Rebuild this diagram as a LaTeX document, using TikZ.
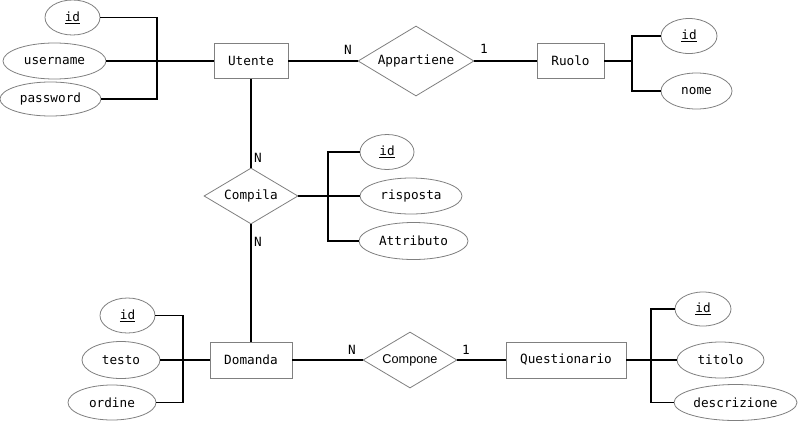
\documentclass[tikz,border=0pt]{standalone}
\usepackage{fontspec}
\setmonofont{DejaVu Sans Mono}
\newfontfamily\relsans{Liberation Sans}
\usetikzlibrary{shapes.geometric}
\newcommand{\keyattr}[1]{\underline{#1}}
\begin{document}
\begin{tikzpicture}[x=1pt,y=-1pt,
  every node/.style={font=\ttfamily\fontsize{12.7}{14}\selectfont, inner sep=0pt},
  entity/.style={draw=black!50, line width=0.8pt, fill=white, rectangle, minimum height=35pt},
  attr/.style={draw=black!50, line width=0.8pt, fill=white, ellipse, minimum height=35pt},
  rel/.style={draw=black!50, line width=0.8pt, fill=white, diamond, aspect=1.7},
  link/.style={draw=black, line width=1.8pt},
  card/.style={font=\ttfamily\fontsize{12.7}{14}\selectfont}
]
\fill[white] (0,0) rectangle (800,421);
\useasboundingbox (0,0) rectangle (800,421);

% junction points of the attribute buses
\coordinate (ubus) at (157,61);
\coordinate (rbus) at (632,61);
\coordinate (cbus) at (328,196);
\coordinate (dbus) at (183,360);
\coordinate (qbus) at (651,360);

% entities
\node[entity, minimum width=74pt] (utente) at (251,61) {Utente};
\node[entity, minimum width=67pt] (ruolo) at (570.5,61) {Ruolo};
\node[entity, minimum width=82pt, minimum height=36pt] (domanda) at (251,360) {Domanda};
\node[entity, minimum width=120pt, minimum height=36pt] (quest) at (566,360) {Questionario};

% relationships
\node[rel, minimum width=116pt, minimum height=70pt] (appart) at (416,61) {Appartiene};
\node[rel, minimum width=94pt, minimum height=56pt] (compila) at (251,196) {Compila};
\node[rel, minimum width=94pt, minimum height=56pt] (compone) at (410,360) {\relsans Compone};

% attributes of Utente
\node[attr, minimum width=55pt] (uid) at (72.5,17.5) {\keyattr{id}};
\node[attr, minimum width=103pt, minimum height=36pt] (uuser) at (54.5,61) {username};
\node[attr, minimum width=101pt, minimum height=34pt] (upass) at (50.5,99) {password};

% attributes of Ruolo
\node[attr, minimum width=56pt] (rid) at (689,36) {\keyattr{id}};
\node[attr, minimum width=71pt, minimum height=36pt] (rnome) at (696.5,91) {nome};

% attributes of Compila
\node[attr, minimum width=54pt] (cid) at (387,152) {\keyattr{id}};
\node[attr, minimum width=102pt, minimum height=36pt] (crisp) at (411,196) {risposta};
\node[attr, minimum width=109pt, minimum height=37pt] (cattr) at (413.5,241) {Attributo};

% attributes of Domanda
\node[attr, minimum width=55pt] (did) at (127.5,315.5) {\keyattr{id}};
\node[attr, minimum width=78pt, minimum height=37pt] (dtesto) at (121,360) {testo};
\node[attr, minimum width=88pt, minimum height=35pt] (dord) at (112,402.5) {ordine};

% attributes of Questionario
\node[attr, minimum width=56pt, minimum height=34pt] (qid) at (703,309) {\keyattr{id}};
\node[attr, minimum width=87pt, minimum height=36pt] (qtit) at (720.5,360) {titolo};
\node[attr, minimum width=123pt, minimum height=36pt] (qdesc) at (735.5,402.5) {descrizione};

% attribute buses
\draw[link] (uid.east) -| (ubus);
\draw[link] (uuser.east) -- (ubus);
\draw[link] (upass.east) -| (ubus);
\draw[link] (ubus) -- (utente.west);

\draw[link] (rid.west) -| (rbus);
\draw[link] (rnome.west) -| (rbus);
\draw[link] (rbus) -- (ruolo.east);

\draw[link] (cid.west) -| (cbus);
\draw[link] (crisp.west) -- (cbus);
\draw[link] (cattr.west) -| (cbus);
\draw[link] (cbus) -- (compila.east);

\draw[link] (did.east) -| (dbus);
\draw[link] (dtesto.east) -- (dbus);
\draw[link] (dord.east) -| (dbus);
\draw[link] (dbus) -- (domanda.west);

\draw[link] (qid.west) -| (qbus);
\draw[link] (qtit.west) -- (qbus);
\draw[link] (qdesc.west) -| (qbus);
\draw[link] (qbus) -- (quest.east);

% relationship connectors
\draw[link] (utente.east) -- (appart.west);
\draw[link] (appart.east) -- (ruolo.west);
\draw[link] (utente.south) -- (compila.north);
\draw[link] (compila.south) -- (domanda.north);
\draw[link] (domanda.east) -- (compone.west);
\draw[link] (compone.east) -- (quest.west);

% cardinalities
\node[card] (c1) at (348,50) {N};
\node[card] (c2) at (484,49) {1};
\node[card] (c3) at (258,158) {N};
\node[card] (c4) at (258,242) {N};
\node[card] (c5) at (352,350) {N};
\node[card] (c6) at (466,350) {1};
\end{tikzpicture}
\end{document}
